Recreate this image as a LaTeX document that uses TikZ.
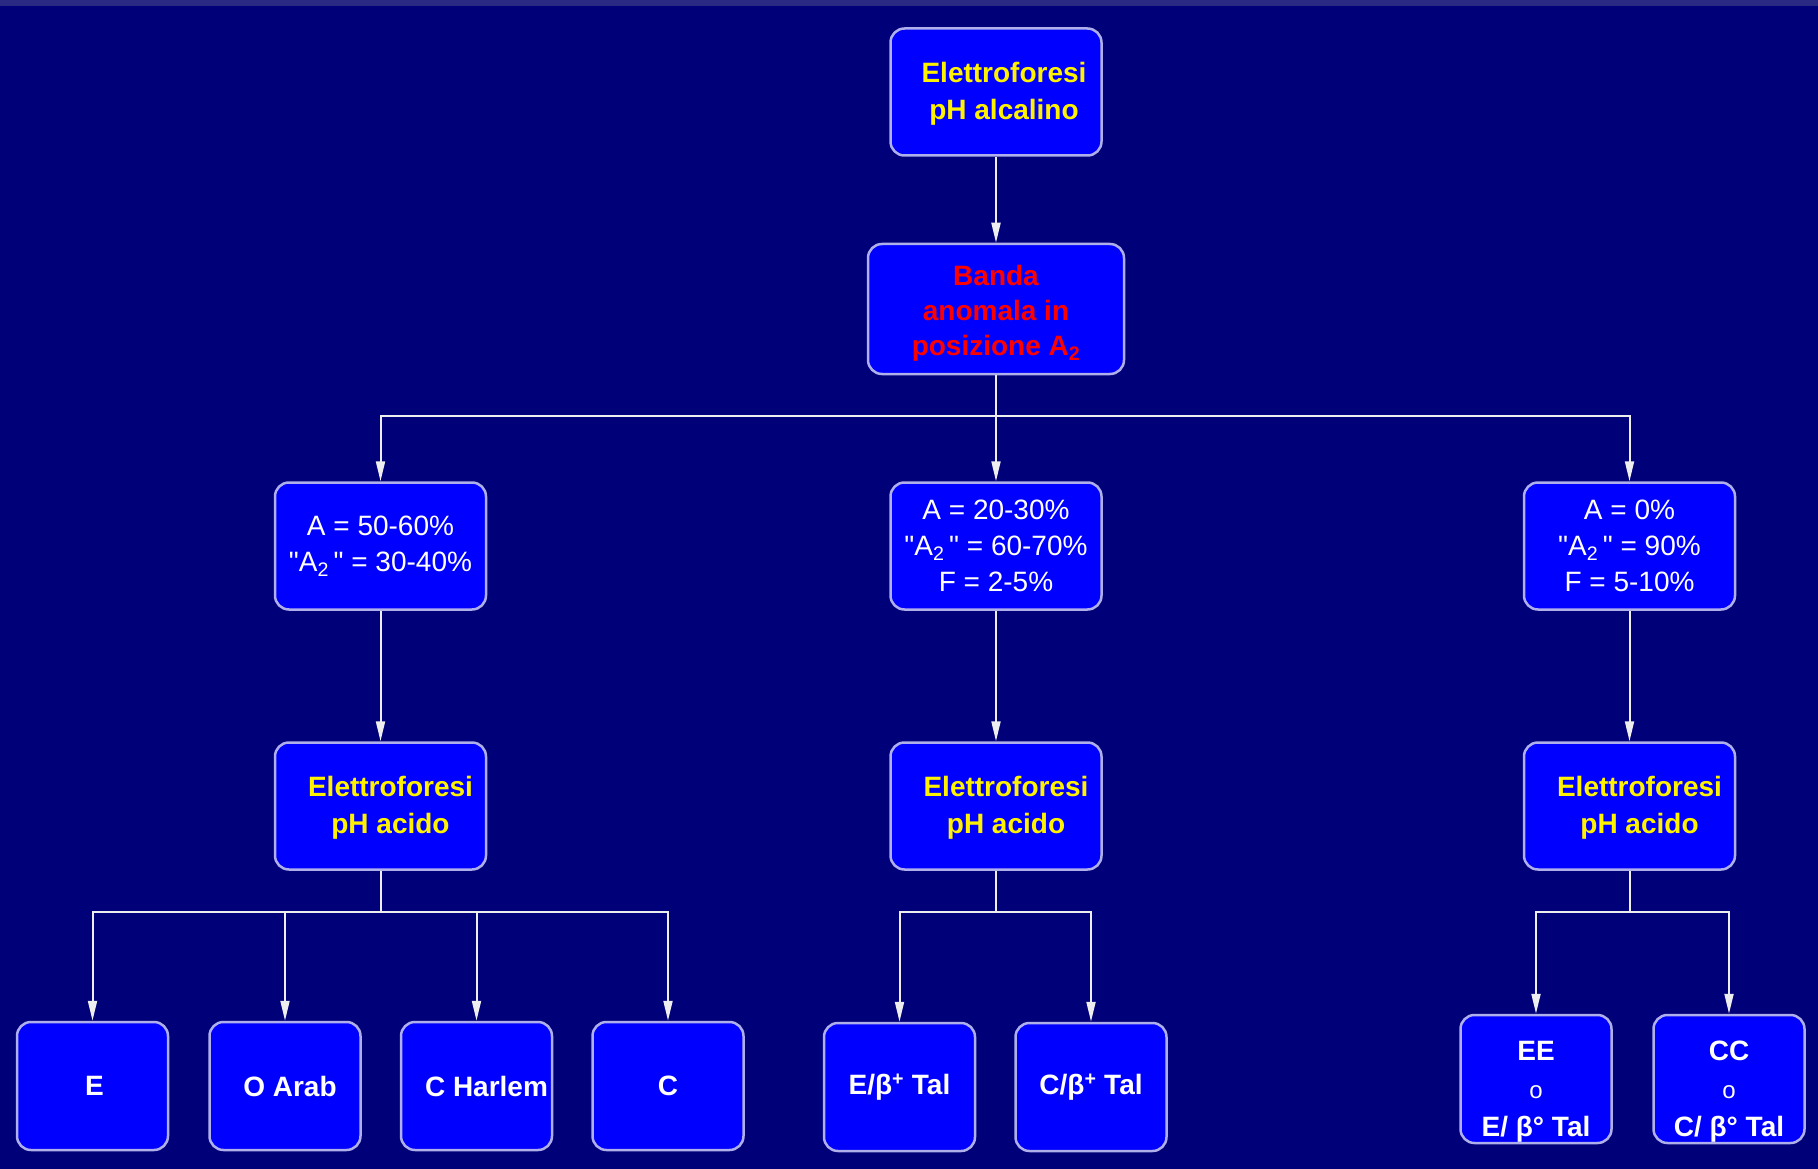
\documentclass[tikz,border=0pt]{standalone}
\usepackage{fontspec}
\setmainfont{Liberation Sans}[Ligatures=TeXOff]
\usetikzlibrary{arrows.meta,positioning,shapes}
\definecolor{navy}{RGB}{0,0,120}
\definecolor{stripe}{RGB}{42,42,132}
\definecolor{boxblue}{RGB}{0,0,255}
\definecolor{boxedge}{RGB}{175,175,235}
\definecolor{wire}{RGB}{238,238,240}
\definecolor{alarm}{RGB}{255,0,0}

\tikzset{
  box/.style={draw=boxedge, line width=2.5pt, fill=boxblue, rounded corners=14pt,
    minimum width=211pt, minimum height=127pt, inner sep=0pt},
  leaf/.style={box, minimum width=151pt, minimum height=128pt},
  ytxt/.style={text=yellow, font=\bfseries\fontsize{28}{37}\selectfont, align=center},
  rtxt/.style={text=alarm, font=\bfseries\fontsize{28}{35}\selectfont, align=center},
  wtxt/.style={text=white, font=\fontsize{28}{36}\selectfont, align=center},
  btxt/.style={text=white, font=\bfseries\fontsize{28}{38}\selectfont, align=center},
  conn/.style={draw=wire, line width=2pt, -{Triangle[width=9pt,length=20pt,fill=wire]}},
  line/.style={draw=wire, line width=2pt}
}

\begin{document}
\begin{tikzpicture}[x = 1pt, y = -1pt]
    \fill[navy] (0,0) rectangle (1818,1169);
    \fill[stripe] (0,0) rectangle (1818,6);
    \useasboundingbox (0,0) rectangle (1818,1169);

    % boxes
    \node[box] (top) at (996,92) {};
    \node[box, minimum width=256pt, minimum height=130pt] (banda) at (996,309) {};
    \node[box] (pctl) at (380.5,546) {};
    \node[box] (pctm) at (996,546) {};
    \node[box] (pctr) at (1629.5,546) {};
    \node[box] (acidol) at (380.5,806) {};
    \node[box] (acidom) at (996,806) {};
    \node[box] (acidor) at (1629.5,806) {};
    \node[leaf] (e) at (92.5,1086) {};
    \node[leaf] (oarab) at (285,1086) {};
    \node[leaf] (charlem) at (476.5,1086) {};
    \node[leaf] (c) at (668,1086) {};
    \node[leaf] (ebeta) at (899.5,1087) {};
    \node[leaf] (cbeta) at (1091,1087) {};
    \node[leaf] (ee) at (1536,1079) {};
    \node[leaf] (cc) at (1729,1079) {};

    % texts
    \node[ytxt] (top-t) at ([xshift=8,yshift=-2]top.center) {Elettroforesi\\pH alcalino};
    \node[rtxt] (banda-t) at ([yshift=-4]banda.center) {Banda\\anomala in\\posizione A\textsubscript{2}};
    \node[wtxt] (pctl-t) at (pctl.center) {A = 50-60\%\\"A\textsubscript{2}\," = 30-40\%};
    \node[wtxt] (pctm-t) at (pctm.center) {A = 20-30\%\\"A\textsubscript{2}\," = 60-70\%\\F = 2-5\%};
    \node[wtxt] (pctr-t) at (pctr.center) {A = 0\%\\"A\textsubscript{2}\," = 90\%\\F = 5-10\%};
    \node[ytxt] (acidol-t) at ([xshift=10,yshift=-2]acidol.center) {Elettroforesi\\pH acido};
    \node[ytxt] (acidom-t) at ([xshift=10,yshift=-2]acidom.center) {Elettroforesi\\pH acido};
    \node[ytxt] (acidor-t) at ([xshift=10,yshift=-2]acidor.center) {Elettroforesi\\pH acido};
    \node[btxt] (e-t) at ([xshift=2]e.center) {E};
    \node[btxt] (oarab-t) at ([xshift=5]oarab.center) {O Arab};
    \node[btxt] (charlem-t) at ([xshift=10]charlem.center) {C Harlem};
    \node[btxt] (c-t) at (c.center) {C};
    \node[btxt] (ebeta-t) at (ebeta.center) {E/β\textsuperscript{+} Tal};
    \node[btxt] (cbeta-t) at (cbeta.center) {C/β\textsuperscript{+} Tal};
    \node[btxt] (ee-t) at ([yshift=-13]ee.center) {EE\\{\mdseries\fontsize{24}{38}\selectfont o}\\E/ β° Tal};
    \node[btxt] (cc-t) at ([yshift=-13]cc.center) {CC\\{\mdseries\fontsize{24}{38}\selectfont o}\\C/ β° Tal};

    % connectors
    \coordinate (split1) at (996,416);
    \coordinate (splitl) at (380.5,912);
    \coordinate (splitm) at (996,912);
    \coordinate (splitr) at (1629.5,912);
    \draw[conn] (top) -- (banda);
    \draw[conn] (banda) -- (pctm);
    \draw[conn] (split1) -| (pctl);
    \draw[conn] (split1) -| (pctr);
    \draw[conn] (pctl) -- (acidol);
    \draw[conn] (pctm) -- (acidom);
    \draw[conn] (pctr) -- (acidor);
    \draw[line] (acidol) -- (splitl);
    \draw[line] (acidom) -- (splitm);
    \draw[line] (acidor) -- (splitr);
    \draw[conn] (splitl) -| (e);
    \draw[conn] (splitl) -| (oarab);
    \draw[conn] (splitl) -| (charlem);
    \draw[conn] (splitl) -| (c);
    \draw[conn] (splitm) -| (ebeta);
    \draw[conn] (splitm) -| (cbeta);
    \draw[conn] (splitr) -| (ee);
    \draw[conn] (splitr) -| (cc);
\end{tikzpicture}
\end{document}
